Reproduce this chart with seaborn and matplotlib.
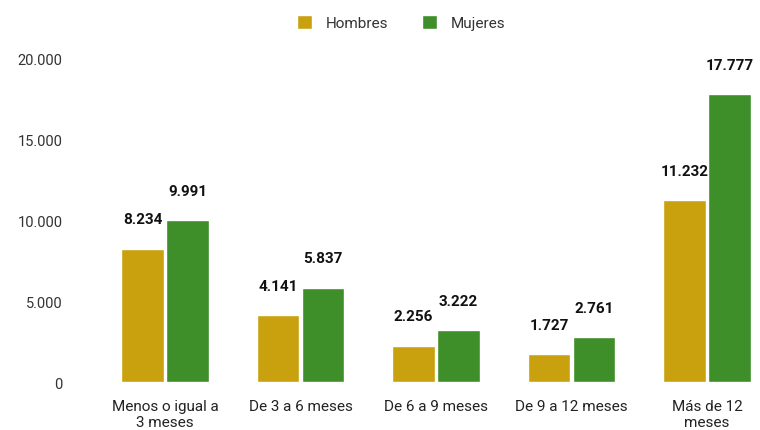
import matplotlib
matplotlib.use("Agg")
import matplotlib.pyplot as plt
import seaborn as sns
import pandas as pd

categorias = ["Menos o igual a\n3 meses", "De 3 a 6 meses", "De 6 a 9 meses",
              "De 9 a 12 meses", "Más de 12\nmeses"]
hombres = [8234, 4141, 2256, 1727, 11232]
mujeres = [9991, 5837, 3222, 2761, 17777]
yticks = [0, 5000, 10000, 15000, 20000]

df = pd.DataFrame({
    "categoria": categorias * 2,
    "sexo": ["Hombres"] * len(categorias) + ["Mujeres"] * len(categorias),
    "valor": hombres + mujeres,
})

def miles(v):
    return f"{int(v):,}".replace(",", ".")

sns.set_style("white")
plt.rcParams['font.family'] = ['Roboto', 'DejaVu Sans']

fig = plt.figure(figsize=(7.6, 4.31), dpi=100)
ax = fig.add_axes([0.128, 0.111, 0.87, 0.752])

sns.barplot(data=df, x="categoria", y="valor", hue="sexo", ax=ax,
            palette={"Hombres": "#C9A00E", "Mujeres": "#3E8E2A"},
            width=0.66, gap=0.05, saturation=1, legend=True)

for cont in ax.containers:
    ax.bar_label(cont, labels=[miles(b.get_height()) for b in cont],
                 padding=16, fontsize=11, fontweight="bold", color="#111111")

ax.set_ylim(0, 20000)
ax.set_xlim(-0.5, 4.38)
ax.set_yticks(yticks)
ax.set_yticklabels([miles(t) for t in yticks], fontsize=10.5, color="#333333")
ax.tick_params(axis="x", labelsize=11, colors="#222222", length=0, pad=12)
ax.tick_params(axis="y", length=0, pad=25)
ax.set_xlabel("")
ax.set_ylabel("")
sns.despine(ax=ax, left=True, bottom=True)

leg = ax.legend(loc="upper center", bbox_to_anchor=(0.46, 1.175), ncol=2,
                frameon=False, fontsize=11, handlelength=1.0, handleheight=1.0,
                columnspacing=2.2, handletextpad=0.9)
for t in leg.get_texts():
    t.set_color("#333333")

fig.savefig("out.png", dpi=100)
